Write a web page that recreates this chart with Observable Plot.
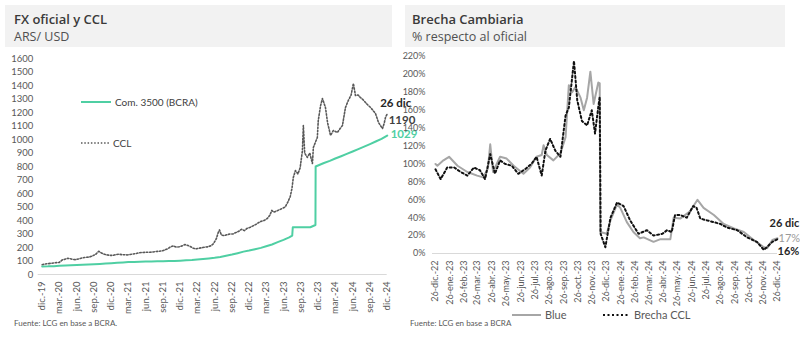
<!DOCTYPE html>
<html><head><meta charset="utf-8">
<script src="https://cdn.jsdelivr.net/npm/d3@7"></script>
<script src="https://cdn.jsdelivr.net/npm/@observablehq/plot@0.6"></script>
<style>
body{margin:0;background:#fff;}
#wrap{position:relative;width:800px;height:342px;overflow:hidden;background:#fff;}
.hdr{position:absolute;top:5px;height:42px;background:#f2f2f2;}
.ttl{position:absolute;left:9px;top:5px;font:600 13px "Open Sans";color:#3a3a3a;white-space:nowrap;}
.sub{position:absolute;left:9px;top:23px;font:400 12.5px "Open Sans";color:#505050;white-space:nowrap;}
.src{position:absolute;font:8px Lato;color:#595959;white-space:nowrap;}
.chart{position:absolute;}
.chart svg{overflow:visible;}
.leg{position:absolute;font:10px Lato;color:#404040;white-space:nowrap;display:flex;align-items:center;}
.leg svg{margin-right:4px;}
</style></head>
<body><div id="wrap">
<div class="hdr" style="left:5px;width:387px"><div class="ttl">FX oficial y CCL</div><div class="sub">ARS/ USD</div></div>
<div class="hdr" style="left:405px;width:380px"><div class="ttl" style="left:7px">Brecha Cambiaria</div><div class="sub" style="left:7px">% respecto al oficial</div></div>
<div id="left" class="chart" style="left:0;top:50px"></div>
<div id="right" class="chart" style="left:400px;top:50px"></div>
<div class="leg" style="left:81px;top:96px"><svg width="30" height="4"><line x1="0" x2="30" y1="2" y2="2" stroke="#4fcfa3" stroke-width="2"/></svg>Com. 3500 (BCRA)</div>
<div class="leg" style="left:81px;top:137px"><svg width="28" height="4"><line x1="0" x2="28" y1="2" y2="2" stroke="#595959" stroke-width="1.6" stroke-dasharray="1.5,1.8"/></svg>CCL</div>
<div class="leg" style="left:512px;top:308px;font-size:11px;color:#595959"><svg width="29" height="4"><line x1="0" x2="29" y1="2" y2="2" stroke="#a6a6a6" stroke-width="2"/></svg>Blue</div>
<div class="leg" style="left:603px;top:308px;font-size:11px;color:#595959"><svg width="27" height="4"><line x1="0" x2="27" y1="2" y2="2" stroke="#111" stroke-width="2" stroke-dasharray="2,2.5"/></svg>Brecha CCL</div>
<div class="src" style="left:14px;top:318px">Fuente: LCG en base a BCRA.</div>
<div class="src" style="left:410px;top:318px">Fuente: LCG en base a BCRA</div>
</div>
<script>
// ---------- Left panel data ----------
const oficialDates = ["2019-12-26","2020-01-26","2020-02-26","2020-03-26","2020-04-26","2020-05-26","2020-06-26","2020-07-26","2020-08-26","2020-09-26","2020-10-26","2020-11-26","2020-12-26","2021-01-26","2021-02-26","2021-03-26","2021-04-26","2021-05-26","2021-06-26","2021-07-26","2021-08-26","2021-09-26","2021-10-26","2021-11-26","2021-12-26","2022-01-26","2022-02-26","2022-03-26","2022-04-26","2022-05-26","2022-06-26","2022-07-26","2022-08-26","2022-09-26","2022-10-26","2022-11-26","2022-12-26","2023-01-26","2023-02-26","2023-03-26","2023-04-26","2023-05-26","2023-06-26","2023-07-26","2023-08-11","2023-08-14","2023-09-26","2023-10-26","2023-11-15","2023-11-30","2023-12-12","2023-12-13","2024-01-26","2024-02-26","2024-03-26","2024-04-26","2024-05-26","2024-06-26","2024-07-26","2024-08-26","2024-09-26","2024-10-26","2024-11-26","2024-12-26"];
const oficialValues = [59.9,60.3,62.0,64.6,66.6,68.5,70.4,72.2,74.2,76.3,78.6,81.5,84.0,87.0,89.6,91.9,93.5,94.7,95.7,96.6,97.6,98.6,99.6,100.9,102.6,105.0,107.6,110.9,114.9,119.0,123.9,129.6,138.3,147.6,158.0,169.5,177.1,186.9,197.1,209.0,222.0,239.5,256.7,274.5,287.3,350.0,350.0,350.0,350.0,359.0,366.5,799.9,826,842,859,876,893,911,929,947,966,985,1005,1029];

const cclDates = ["2019-12-26","2020-01-10","2020-01-26","2020-02-10","2020-02-26","2020-03-10","2020-03-26","2020-04-10","2020-04-26","2020-05-10","2020-05-20","2020-06-05","2020-06-20","2020-07-05","2020-07-20","2020-08-05","2020-08-20","2020-09-05","2020-09-20","2020-10-05","2020-10-20","2020-11-05","2020-11-20","2020-12-05","2020-12-20","2021-01-05","2021-01-20","2021-02-05","2021-02-20","2021-03-05","2021-03-20","2021-04-05","2021-04-20","2021-05-05","2021-05-20","2021-06-05","2021-06-20","2021-07-05","2021-07-20","2021-08-05","2021-08-20","2021-09-05","2021-09-20","2021-10-05","2021-10-20","2021-11-05","2021-11-20","2021-12-05","2021-12-20","2022-01-05","2022-01-20","2022-02-05","2022-02-20","2022-03-05","2022-03-20","2022-04-05","2022-04-20","2022-05-05","2022-05-20","2022-06-05","2022-06-20","2022-07-05","2022-07-15","2022-07-22","2022-08-01","2022-08-15","2022-09-01","2022-09-15","2022-10-01","2022-10-15","2022-11-01","2022-11-15","2022-12-01","2022-12-15","2023-01-01","2023-01-15","2023-02-01","2023-02-15","2023-03-01","2023-03-15","2023-04-01","2023-04-15","2023-04-25","2023-05-05","2023-05-20","2023-06-05","2023-06-20","2023-07-05","2023-07-20","2023-08-01","2023-08-10","2023-08-17","2023-08-28","2023-09-10","2023-09-22","2023-10-04","2023-10-09","2023-10-16","2023-10-30","2023-11-12","2023-11-26","2023-12-01","2023-12-12","2023-12-22","2023-12-27","2024-01-08","2024-01-18","2024-02-03","2024-02-14","2024-03-01","2024-03-16","2024-04-06","2024-04-20","2024-05-03","2024-05-19","2024-06-03","2024-06-18","2024-06-30","2024-07-11","2024-07-25","2024-08-06","2024-08-20","2024-09-02","2024-09-15","2024-09-29","2024-10-12","2024-10-25","2024-11-10","2024-11-22","2024-12-01","2024-12-10","2024-12-17","2024-12-26"];
const cclValues = [72,78,80,83,85,88,90,108,114,120,118,112,110,115,121,126,128,131,140,150,172,158,150,145,142,142,148,150,147,146,145,148,152,155,160,163,164,165,165,167,170,172,175,182,190,205,212,203,205,212,222,215,205,195,190,195,198,203,205,212,228,265,310,330,292,288,295,300,300,310,320,335,325,342,350,360,372,385,395,400,415,440,475,462,470,480,490,500,540,580,640,720,770,745,790,918,1104,900,867,900,822,941,980,1015,1141,1250,1304,1237,1126,1030,1067,1052,1080,1104,1237,1289,1330,1415,1326,1330,1311,1295,1274,1255,1237,1215,1193,1126,1100,1081,1120,1163,1190];

const leftTickDates = ["2019-12-26","2020-03-26","2020-06-26","2020-09-26","2020-12-26","2021-03-26","2021-06-26","2021-09-26","2021-12-26","2022-03-26","2022-06-26","2022-09-26","2022-12-26","2023-03-26","2023-06-26","2023-09-26","2023-12-26","2024-03-26","2024-06-26","2024-09-26","2024-12-26"];
const leftTickLabels = ["dic.-19","mar.-20","jun.-20","sep.-20","dic.-20","mar.-21","jun.-21","sep.-21","dic.-21","mar.-22","jun.-22","sep.-22","dic.-22","mar.-23","jun.-23","sep.-23","dic.-23","mar.-24","jun.-24","sep.-24","dic.-24"];
const leftYTicks = [0,100,200,300,400,500,600,700,800,900,1000,1100,1200,1300,1400,1500,1600];

// ---------- Right panel data ----------
const blueDates = ["2022-12-26","2022-12-30","2023-01-12","2023-01-24","2023-02-11","2023-03-04","2023-03-25","2023-04-07","2023-04-17","2023-04-22","2023-04-28","2023-05-13","2023-05-27","2023-06-11","2023-07-02","2023-07-16","2023-07-30","2023-08-10","2023-08-14","2023-08-21","2023-09-04","2023-09-19","2023-09-30","2023-10-07","2023-10-14","2023-10-21","2023-11-01","2023-11-08","2023-11-15","2023-11-22","2023-11-29","2023-12-09","2023-12-12","2023-12-13","2023-12-27","2024-01-04","2024-01-18","2024-01-25","2024-02-08","2024-02-22","2024-03-07","2024-03-15","2024-04-05","2024-04-20","2024-05-11","2024-05-18","2024-06-01","2024-06-22","2024-07-08","2024-07-21","2024-08-12","2024-09-02","2024-09-24","2024-10-15","2024-11-05","2024-11-27","2024-12-04","2024-12-15","2024-12-26"];
const blueValues = [100,98,104,108,98,91,87,85,95,122,91,108,106,98,89,96,108,110,121,110,104,112,130,188,180,186,174,160,174,203,167,191,190,24,22,37,55,51,35,24,17,18,13,16,16,40,39,47,60,51,43,33,28,24,15,7,6,15,17];

const brechaDates = ["2022-12-26","2023-01-06","2023-01-20","2023-02-04","2023-02-18","2023-03-04","2023-03-18","2023-03-31","2023-04-11","2023-04-22","2023-05-02","2023-05-13","2023-05-24","2023-06-07","2023-06-21","2023-07-05","2023-07-19","2023-07-30","2023-08-10","2023-08-18","2023-08-28","2023-09-08","2023-09-19","2023-09-30","2023-10-07","2023-10-18","2023-10-25","2023-11-04","2023-11-15","2023-11-25","2023-12-02","2023-12-09","2023-12-12","2023-12-14","2023-12-24","2024-01-04","2024-01-18","2024-02-01","2024-02-15","2024-03-04","2024-03-22","2024-04-05","2024-04-24","2024-05-04","2024-05-14","2024-05-21","2024-06-01","2024-06-15","2024-06-29","2024-07-06","2024-07-14","2024-07-28","2024-08-12","2024-08-26","2024-09-09","2024-10-01","2024-10-22","2024-11-12","2024-11-27","2024-12-15","2024-12-26"];
const brechaValues = [94,83,96,96,91,87,96,93,83,111,89,104,100,98,89,94,100,108,87,115,128,115,108,154,163,215,171,148,143,160,134,164,175,22,7,40,57,53,37,22,26,20,22,26,24,43,43,40,53,51,39,37,35,33,29,26,18,13,4,13,16];

const rightTickDates = ["2022-12-26","2023-01-26","2023-02-26","2023-03-26","2023-04-26","2023-05-26","2023-06-26","2023-07-26","2023-08-26","2023-09-26","2023-10-26","2023-11-26","2023-12-26","2024-01-26","2024-02-26","2024-03-26","2024-04-26","2024-05-26","2024-06-26","2024-07-26","2024-08-26","2024-09-26","2024-10-26","2024-11-26","2024-12-26"];
const rightTickLabels = ["26-dic.-22","26-ene.-23","26-feb.-23","26-mar.-23","26-abr.-23","26-may.-23","26-jun.-23","26-jul.-23","26-ago.-23","26-sep.-23","26-oct.-23","26-nov.-23","26-dic.-23","26-ene.-24","26-feb.-24","26-mar.-24","26-abr.-24","26-may.-24","26-jun.-24","26-jul.-24","26-ago.-24","26-sep.-24","26-oct.-24","26-nov.-24","26-dic.-24"];
const rightYTicks = [0,20,40,60,80,100,120,140,160,180,200,220];

// ---------- build ----------
const D = s => new Date(s + "T00:00:00Z");
const oficial = oficialDates.map((d,i)=>({date:D(d), value:oficialValues[i]}));
const ccl = cclDates.map((d,i)=>({date:D(d), value:cclValues[i]}));
const blue = blueDates.map((d,i)=>({date:D(d), value:blueValues[i]}));
const brecha = brechaDates.map((d,i)=>({date:D(d), value:brechaValues[i]}));
const lTicks = leftTickDates.map(D);
const lLab = new Map(lTicks.map((d,i)=>[+d, leftTickLabels[i]]));
const rTicks = rightTickDates.map(D);
const rLab = new Map(rTicks.map((d,i)=>[+d, rightTickLabels[i]]));

const lastO = oficial[oficial.length-1], lastC = ccl[ccl.length-1];
const left = Plot.plot({
  width: 398, height: 264, marginTop: 8, marginBottom: 40, marginLeft: 41.7, marginRight: 11.3,
  style: {fontFamily: "Lato", fontSize: "9.5px", color: "#595959", overflow: "visible", background: "transparent"},
  x: {type: "utc", domain: [lTicks[0], lTicks[lTicks.length-1]], ticks: lTicks, tickFormat: d => lLab.get(+d), tickRotate: -90, tickSize: 0, tickPadding: 7, label: null},
  y: {domain: [0, 1600], ticks: leftYTicks, tickFormat: d => String(d), tickSize: 0, tickPadding: 9, label: null},
  marks: [
    Plot.ruleY([0], {stroke: "#d9d9d9", insetLeft: -4}),
    Plot.line(ccl, {x: "date", y: "value", stroke: "#595959", strokeWidth: 1.6, strokeDasharray: "1.5,1.8"}),
    Plot.line(oficial, {x: "date", y: "value", stroke: "#4fcfa3", strokeWidth: 2}),
    Plot.text([lastC], {x: "date", y: "value", text: () => "26 dic", dx: -7, dy: -11, textAnchor: "start", fontWeight: "bold", fontSize: 11.5, fill: "#262626", fontFamily: "Lato"}),
    Plot.text([lastC], {x: "date", y: "value", text: d => String(d.value), dx: 1.5, dy: 6, textAnchor: "start", fontWeight: "bold", fontSize: 11.5, fill: "#404040", fontFamily: "Lato"}),
    Plot.text([lastO], {x: "date", y: "value", text: d => String(d.value), dx: 3.5, dy: -1, textAnchor: "start", fontWeight: "bold", fontSize: 11.5, fill: "#4fcfa3", fontFamily: "Lato"})
  ]
});
document.getElementById("left").appendChild(left);

const lastB = blue[blue.length-1], lastBr = brecha[brecha.length-1];
const right = Plot.plot({
  width: 400, height: 253, marginTop: 6, marginBottom: 50, marginLeft: 35, marginRight: 23,
  style: {fontFamily: "Lato", fontSize: "9px", color: "#595959", overflow: "visible", background: "transparent"},
  x: {type: "utc", domain: [rTicks[0], rTicks[rTicks.length-1]], ticks: rTicks, tickFormat: d => rLab.get(+d), tickRotate: -90, tickSize: 0, tickPadding: 7, label: null},
  y: {domain: [0, 220], ticks: rightYTicks, tickFormat: d => d + "%", tickSize: 0, tickPadding: 10, label: null},
  marks: [
    Plot.ruleY([0], {stroke: "#d9d9d9", insetLeft: -3}),
    Plot.line(blue, {x: "date", y: "value", stroke: "#a6a6a6", strokeWidth: 2}),
    Plot.line(brecha, {x: "date", y: "value", stroke: "#111", strokeWidth: 2, strokeDasharray: "2,2.5"}),
    Plot.text([lastBr], {x: "date", y: "value", text: () => "26 dic", dx: -8, dy: -15.5, textAnchor: "start", fontWeight: "bold", fontSize: 11, fill: "#262626", fontFamily: "Lato"}),
    Plot.text([lastB], {x: "date", y: "value", text: d => d.value + "%", dx: 1, dy: 0, textAnchor: "start", fontSize: 11, fill: "#9a9a9a", fontFamily: "Lato"}),
    Plot.text([lastBr], {x: "date", y: "value", text: d => d.value + "%", dx: 0, dy: 12.5, textAnchor: "start", fontWeight: "bold", fontSize: 11, fill: "#262626", fontFamily: "Lato"})
  ]
});
document.getElementById("right").appendChild(right);
</script>
</body></html>
